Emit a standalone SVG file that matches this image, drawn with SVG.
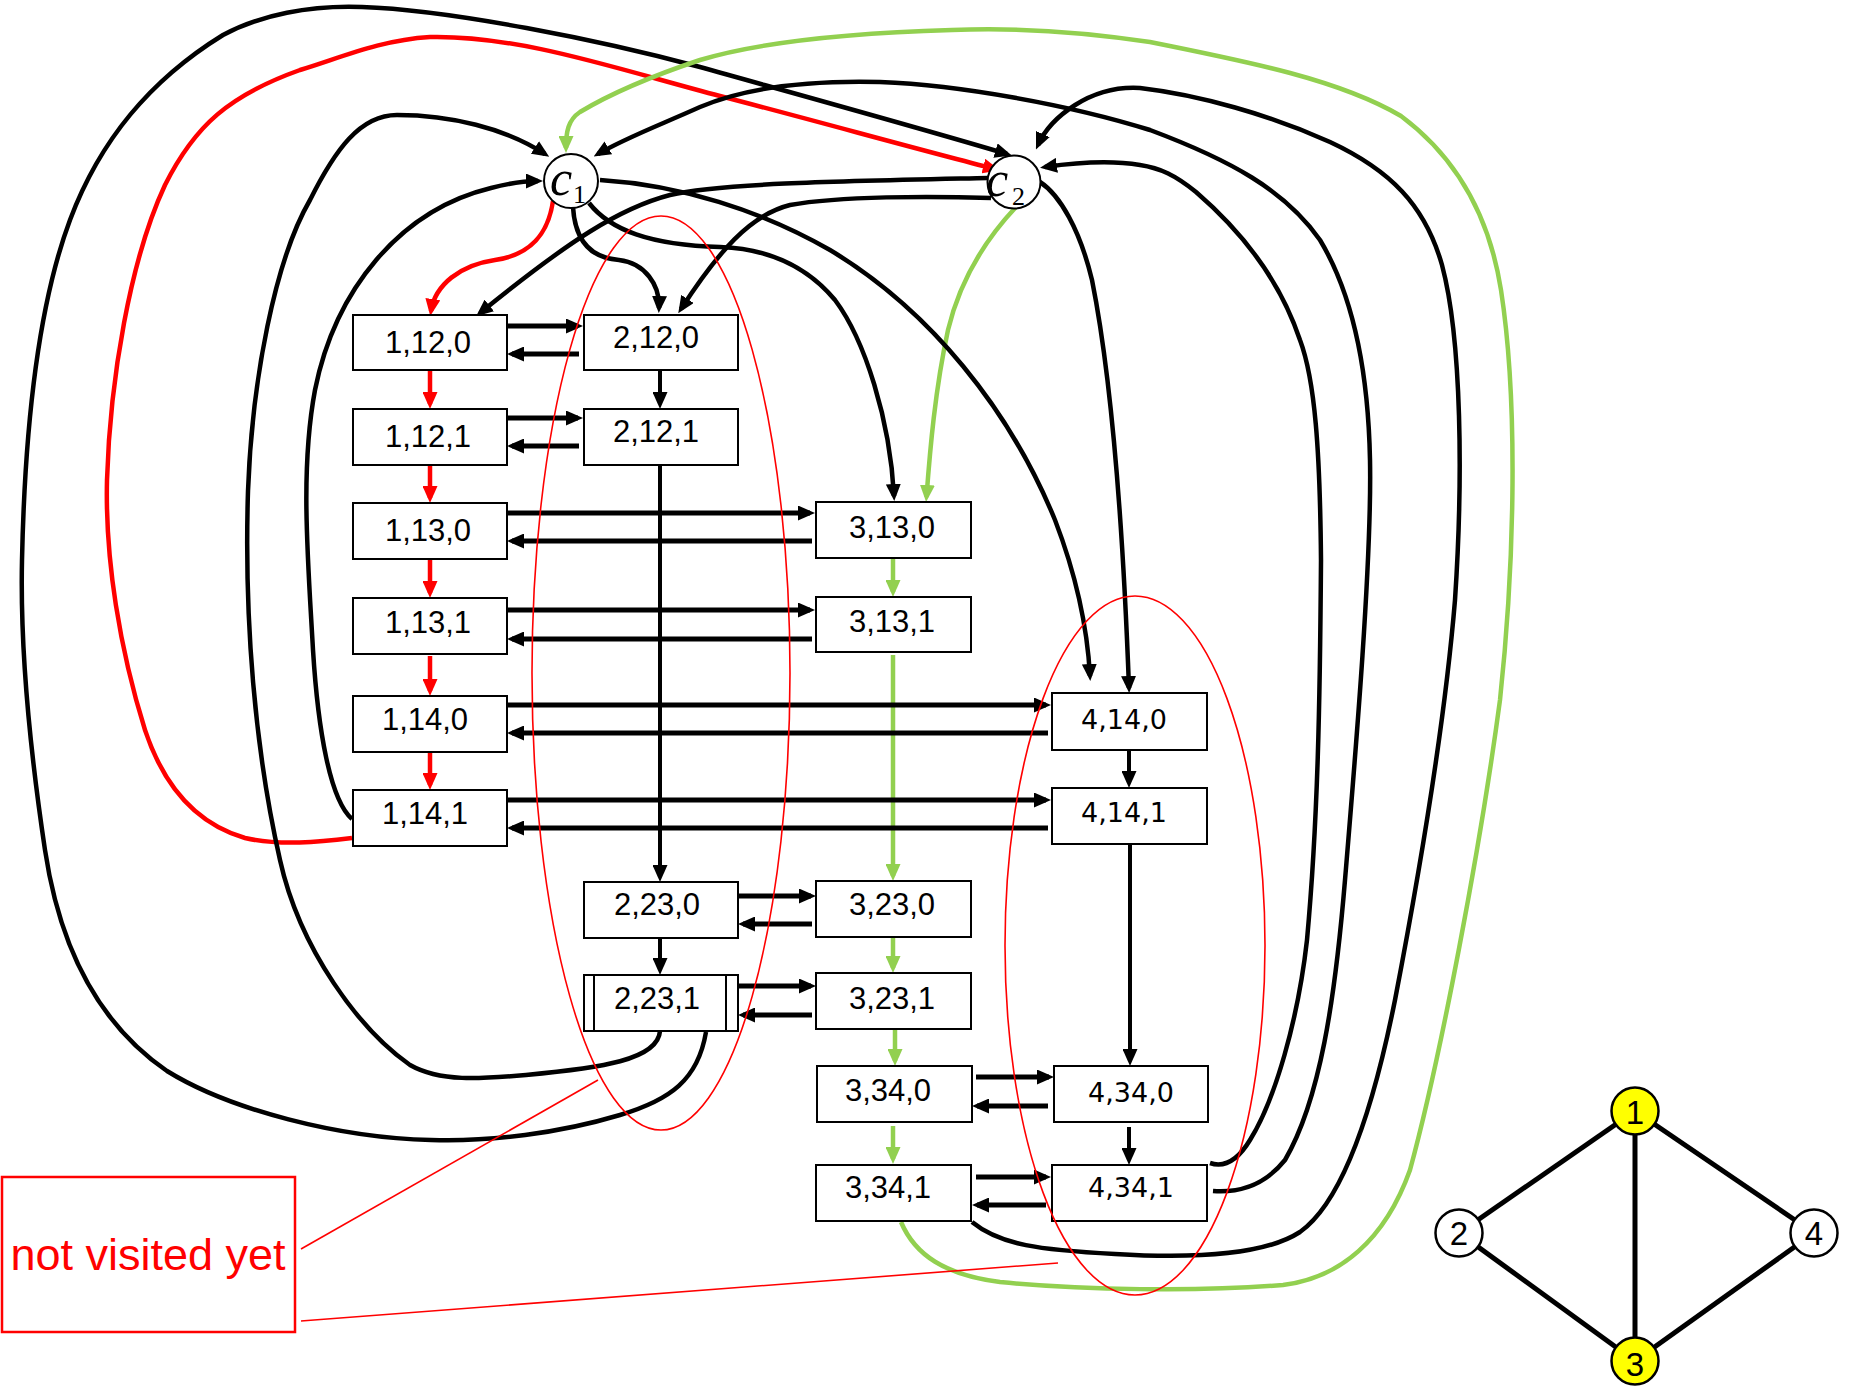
<svg xmlns="http://www.w3.org/2000/svg" width="1865" height="1397" viewBox="0 0 1865 1397">
<defs>
<style>
.box{fill:#fff;stroke:#000;stroke-width:2}
.lbl{font-family:"Liberation Sans",Arial,sans-serif;font-size:31px;text-anchor:middle;fill:#000}
.lbl4{font-family:"DejaVu Sans",Verdana,sans-serif;font-size:27px;text-anchor:middle;fill:#000}
.k{fill:none;stroke:#000;stroke-width:4.5}
.r{fill:none;stroke:#ff0000;stroke-width:4.5}
.g{fill:none;stroke:#92d050;stroke-width:4.5}
.kh{stroke:#000;stroke-width:5}
.kv{stroke:#000;stroke-width:4}
.ka{marker-end:url(#ak)}
.ra{marker-end:url(#ar)}
.ga{marker-end:url(#ag)}
.thin{fill:none;stroke:#ff0000;stroke-width:1.6}
.cnode{fill:#fff;stroke:#000;stroke-width:2}
.cl{font-family:"Liberation Serif","Times New Roman",serif;font-style:italic;fill:#000}
.sub{font-family:"Liberation Serif","Times New Roman",serif;font-style:normal;fill:#000}
.gn{stroke:#000;stroke-width:2.5}
.gl{font-family:"Liberation Sans",Arial,sans-serif;font-size:33px;text-anchor:middle;fill:#000}
</style>
<marker id="ak" markerUnits="userSpaceOnUse" markerWidth="17" markerHeight="15" viewBox="0 0 17 15" refX="12" refY="7.5" orient="auto"><path d="M0,0 L17,7.5 L0,15 z" fill="#000"/></marker>
<marker id="ar" markerUnits="userSpaceOnUse" markerWidth="17" markerHeight="15" viewBox="0 0 17 15" refX="12" refY="7.5" orient="auto"><path d="M0,0 L17,7.5 L0,15 z" fill="#ff0000"/></marker>
<marker id="ag" markerUnits="userSpaceOnUse" markerWidth="17" markerHeight="15" viewBox="0 0 17 15" refX="12" refY="7.5" orient="auto"><path d="M0,0 L17,7.5 L0,15 z" fill="#92d050"/></marker>
</defs>
<rect width="1865" height="1397" fill="#fff"/>

<g id="connectors">
<path class="k ka" d="M706,1032 C698,1080 670,1100 620,1115 C560,1133 490,1142 431,1140 C340,1138 230,1110 167,1071 C100,1025 60,950 45,850 C30,750 20,650 22,560 C25,420 40,300 70,220 C100,140 150,80 223,35 C260,15 310,5 362,7 C450,10 600,40 700,67 C800,95 920,128 1007,154"/>
<path class="r ra" d="M352,838 C320,842 280,846 245,838 C200,825 165,790 145,730 C120,650 105,560 107,480 C110,380 130,260 165,185 C195,125 230,95 300,70 C340,58 380,40 430,37 C520,35 620,70 720,96 C820,122 920,150 995,169"/>
<path class="k ka" d="M660,1031 C658,1060 600,1068 526,1075 C480,1079 440,1082 410,1065 C360,1030 300,950 280,860 C255,750 244,620 248,491 C252,380 275,260 310,200 C335,150 360,115 397,115 C450,115 505,128 545,154"/>
<path class="k ka" d="M352,819 C330,800 318,730 313,650 C308,560 300,470 315,390 C335,290 400,210 491,188 C510,183 522,181 538,181"/>
<path class="g ga" d="M901,1222 C915,1255 945,1275 1000,1282 C1080,1290 1200,1292 1283,1285 C1340,1278 1385,1240 1410,1170 C1440,1060 1480,850 1500,700 C1515,560 1518,400 1501,290 C1490,220 1460,160 1401,116 C1340,80 1250,62 1150,42 C1070,30 1000,28 952,30 C850,33 760,42 700,60 C640,80 600,100 580,112 C568,120 566,132 566,148"/>
<path class="k ka" d="M1213,1191 C1240,1193 1265,1185 1285,1160 C1320,1100 1335,1000 1345,880 C1355,760 1372,560 1370,460 C1368,360 1350,290 1320,240 C1285,190 1230,160 1150,130 C1070,105 960,85 880,82 C800,80 740,90 700,107 C660,125 625,138 598,154"/>
<path class="k ka" d="M972,1222 C1000,1245 1040,1250 1115,1254 C1180,1258 1260,1258 1300,1232 C1345,1200 1375,1100 1395,1000 C1420,870 1445,720 1455,600 C1463,480 1462,340 1442,265 C1425,205 1390,170 1330,142 C1270,115 1200,95 1140,88 C1090,85 1050,118 1038,145"/>
<path class="k ka" d="M1210,1163 C1225,1168 1238,1160 1250,1140 C1275,1100 1298,1020 1307,940 C1318,820 1320,700 1321,560 C1320,450 1315,380 1300,340 C1280,280 1240,230 1196,192 C1175,175 1160,168 1140,165 C1110,160 1080,162 1045,167"/>
<path class="k ka" d="M988,178 C850,181 720,183 670,195 C620,208 570,240 480,313"/>
<path class="k ka" d="M991,198 C930,196 840,196 790,205 C750,215 718,252 681,309"/>
<path class="g ga" d="M1016,207 C985,240 960,280 948,330 C935,390 930,450 926.5,497"/>
<path class="k ka" d="M1040,182 C1060,195 1080,230 1092,280 C1110,370 1122,500 1129,688"/>
<path class="r ra" d="M553,201 C548,235 530,255 495,260 C460,265 435,285 431,311"/>
<path class="k ka" d="M573,207 C575,240 590,258 619,260 C645,263 660,285 659,308"/>
<path class="k ka" d="M589,203 C610,230 650,245 720,247 C775,249 810,270 835,300 C865,340 890,420 894,496"/>
<path class="k ka" d="M600,180 C680,185 760,210 830,250 C930,310 1010,410 1055,520 C1080,585 1088,640 1090,676"/>

<line class="r ra" x1="430" y1="370" x2="430" y2="404"/>
<line class="r ra" x1="430" y1="465" x2="430" y2="498"/>
<line class="r ra" x1="430" y1="559" x2="430" y2="593"/>
<line class="r ra" x1="430" y1="656" x2="430" y2="691"/>
<line class="r ra" x1="430" y1="752" x2="430" y2="785"/>
<line class="kv ka" x1="660" y1="371" x2="660" y2="404"/>
<line class="kv ka" x1="660" y1="465" x2="660" y2="877"/>
<line class="kv ka" x1="660" y1="938" x2="660" y2="970"/>
<line class="kv ka" x1="1129" y1="751" x2="1129" y2="783"/>
<line class="kv ka" x1="1130" y1="845" x2="1130" y2="1061"/>
<line class="kv ka" x1="1129" y1="1127" x2="1129" y2="1160"/>
<line class="g ga" x1="893" y1="559" x2="893" y2="592"/>
<line class="g ga" x1="893" y1="655" x2="893" y2="876"/>
<line class="g ga" x1="893" y1="938" x2="893" y2="968"/>
<line class="g ga" x1="895" y1="1028" x2="895" y2="1061"/>
<line class="g ga" x1="893" y1="1126" x2="893" y2="1159"/>
<line class="kh ka" x1="507" y1="326" x2="578" y2="326"/>
<line class="kh ka" x1="579" y1="354" x2="512" y2="354"/>
<line class="kh ka" x1="507" y1="418" x2="578" y2="418"/>
<line class="kh ka" x1="579" y1="446" x2="512" y2="446"/>
<line class="kh ka" x1="507" y1="513" x2="810" y2="513"/>
<line class="kh ka" x1="812" y1="541" x2="512" y2="541"/>
<line class="kh ka" x1="507" y1="610" x2="810" y2="610"/>
<line class="kh ka" x1="812" y1="639" x2="512" y2="639"/>
<line class="kh ka" x1="507" y1="705" x2="1046" y2="705"/>
<line class="kh ka" x1="1048" y1="733" x2="512" y2="733"/>
<line class="kh ka" x1="508" y1="800" x2="1046" y2="800"/>
<line class="kh ka" x1="1048" y1="828" x2="512" y2="828"/>
<line class="kh ka" x1="738" y1="896" x2="811" y2="896"/>
<line class="kh ka" x1="812" y1="924" x2="743" y2="924"/>
<line class="kh ka" x1="738" y1="986" x2="811" y2="986"/>
<line class="kh ka" x1="812" y1="1015" x2="743" y2="1015"/>
<line class="kh ka" x1="976" y1="1077" x2="1049" y2="1077"/>
<line class="kh ka" x1="1048" y1="1106" x2="977" y2="1106"/>
<line class="kh ka" x1="976" y1="1177" x2="1046" y2="1177"/>
<line class="kh ka" x1="1046" y1="1205" x2="977" y2="1205"/>
</g>

<g id="c1"><circle class="cnode" cx="571" cy="181" r="27"/><text class="cl" x="550" y="195" font-size="50">c</text><text class="sub" x="573" y="203" font-size="26">1</text></g>
<g id="c2"><circle class="cnode" cx="1014" cy="182" r="26.5"/><text class="cl" x="986" y="196" font-size="50">c</text><text class="sub" x="1012" y="205" font-size="26">2</text></g>

<g id="n1120"><rect class="box" x="353" y="315" width="154" height="55"/><text class="lbl" x="428" y="353">1,12,0</text></g>
<g id="n1121"><rect class="box" x="353" y="409" width="154" height="56"/><text class="lbl" x="428" y="447">1,12,1</text></g>
<g id="n1130"><rect class="box" x="353" y="503" width="154" height="56"/><text class="lbl" x="428" y="541">1,13,0</text></g>
<g id="n1131"><rect class="box" x="353" y="598" width="154" height="56"/><text class="lbl" x="428" y="633">1,13,1</text></g>
<g id="n1140"><rect class="box" x="353" y="696" width="154" height="56"/><text class="lbl" x="425" y="730">1,14,0</text></g>
<g id="n1141"><rect class="box" x="353" y="790" width="154" height="56"/><text class="lbl" x="425" y="824">1,14,1</text></g>
<g id="n2120"><rect class="box" x="584" y="315" width="154" height="55"/><text class="lbl" x="656" y="348">2,12,0</text></g>
<g id="n2121"><rect class="box" x="584" y="409" width="154" height="56"/><text class="lbl" x="656" y="442">2,12,1</text></g>
<g id="n3130"><rect class="box" x="816" y="502" width="155" height="56"/><text class="lbl" x="892" y="538">3,13,0</text></g>
<g id="n3131"><rect class="box" x="816" y="597" width="155" height="55"/><text class="lbl" x="892" y="632">3,13,1</text></g>
<g id="n2230"><rect class="box" x="584" y="882" width="154" height="56"/><text class="lbl" x="657" y="915">2,23,0</text></g>
<g id="n2231"><rect class="box" x="584" y="975" width="154" height="56"/><line x1="594" y1="975" x2="594" y2="1031" stroke="#000" stroke-width="2"/><line x1="726" y1="975" x2="726" y2="1031" stroke="#000" stroke-width="2"/><text class="lbl" x="657" y="1009">2,23,1</text></g>
<g id="n3230"><rect class="box" x="816" y="881" width="155" height="56"/><text class="lbl" x="892" y="915">3,23,0</text></g>
<g id="n3231"><rect class="box" x="816" y="973" width="155" height="56"/><text class="lbl" x="892" y="1009">3,23,1</text></g>
<g id="n3340"><rect class="box" x="817" y="1066" width="155" height="56"/><text class="lbl" x="888" y="1101">3,34,0</text></g>
<g id="n3341"><rect class="box" x="816" y="1165" width="155" height="56"/><text class="lbl" x="888" y="1198">3,34,1</text></g>
<g id="n4140"><rect class="box" x="1052" y="693" width="155" height="57"/><text class="lbl4" x="1124" y="729">4,14,0</text></g>
<g id="n4141"><rect class="box" x="1052" y="788" width="155" height="56"/><text class="lbl4" x="1124" y="822">4,14,1</text></g>
<g id="n4340"><rect class="box" x="1054" y="1066" width="154" height="56"/><text class="lbl4" x="1131" y="1102">4,34,0</text></g>
<g id="n4341"><rect class="box" x="1052" y="1165" width="155" height="56"/><text class="lbl4" x="1131" y="1197">4,34,1</text></g>

<g id="not-visited">
<ellipse class="thin" cx="661" cy="673" rx="129" ry="457"/>
<ellipse class="thin" cx="1135" cy="945.5" rx="130" ry="349.5"/>
<line class="thin" x1="301" y1="1249" x2="598" y2="1080"/>
<line class="thin" x1="301" y1="1321" x2="1058" y2="1263"/>
<rect x="2" y="1177" width="293" height="155" fill="none" stroke="#ff0000" stroke-width="2.5"/>
<text x="148" y="1270" font-family="Liberation Sans, Arial, sans-serif" font-size="45" text-anchor="middle" fill="#ff0000">not visited yet</text>
</g>

<g id="graph">
<g id="graph-edges">
<line class="kh" x1="1635" y1="1111" x2="1459" y2="1233"/>
<line class="kh" x1="1635" y1="1111" x2="1635" y2="1361"/>
<line class="kh" x1="1635" y1="1111" x2="1814" y2="1233"/>
<line class="kh" x1="1459" y1="1233" x2="1635" y2="1361"/>
<line class="kh" x1="1814" y1="1233" x2="1635" y2="1361"/>
</g>
<g id="g1"><circle class="gn" cx="1635" cy="1111" r="23.5" fill="#ffff00"/><text class="gl" x="1635" y="1124">1</text></g>
<g id="g2"><circle class="gn" cx="1459" cy="1233" r="23.5" fill="#fff"/><text class="gl" x="1459" y="1245">2</text></g>
<g id="g3"><circle class="gn" cx="1635" cy="1361" r="23.5" fill="#ffff00"/><text class="gl" x="1635" y="1376">3</text></g>
<g id="g4"><circle class="gn" cx="1814" cy="1233" r="23.5" fill="#fff"/><text class="gl" x="1814" y="1245">4</text></g>
</g>
</svg>
